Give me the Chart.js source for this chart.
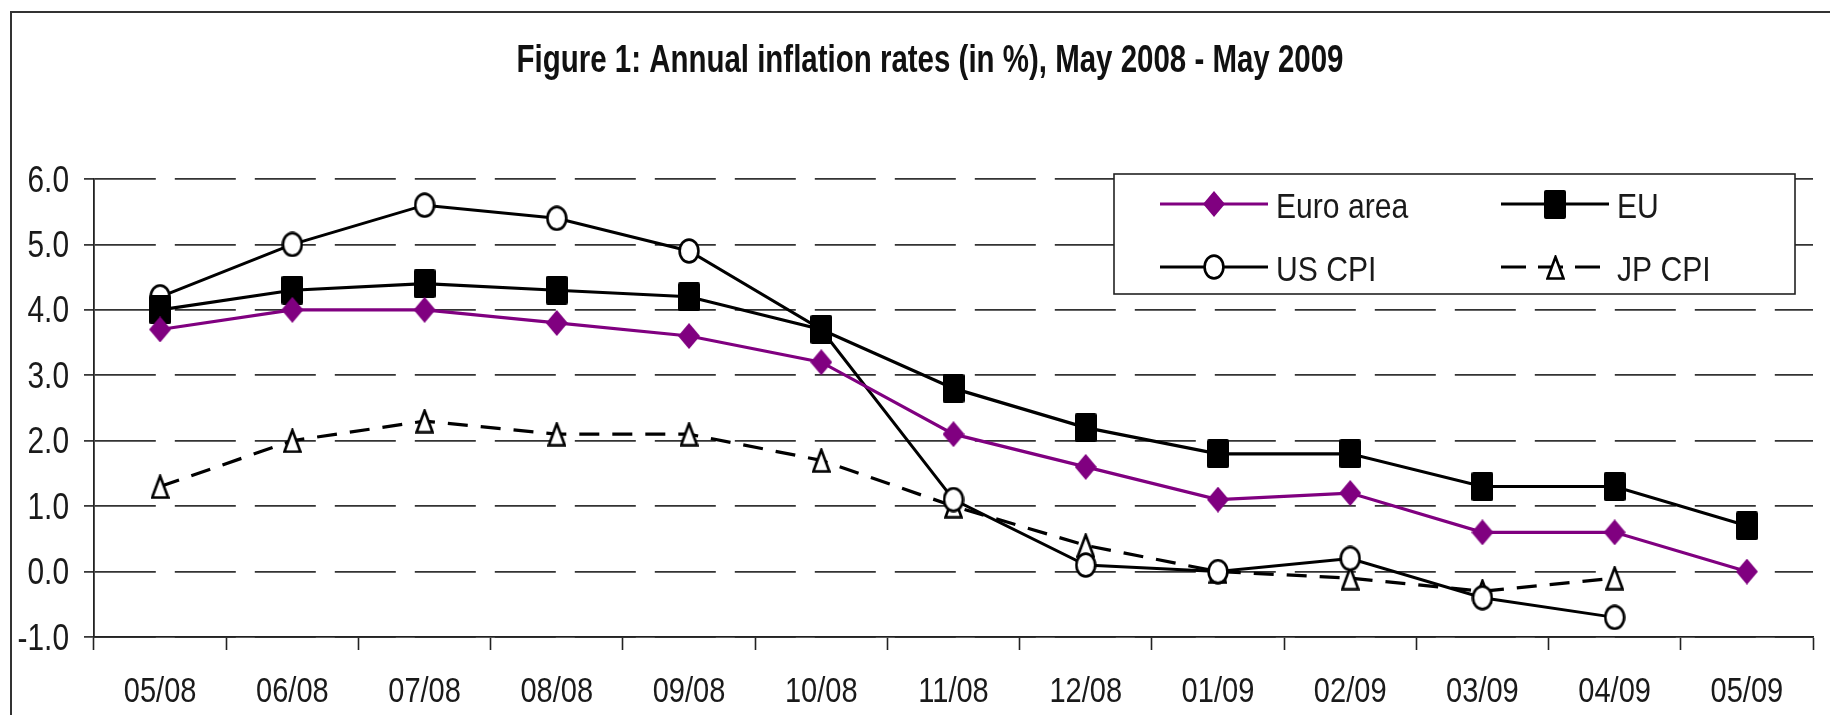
<!DOCTYPE html>
<html>
<head>
<meta charset="utf-8">
<script src="https://cdn.jsdelivr.net/npm/chart.js@4.4.0/dist/chart.umd.min.js"></script>
<style>
  html, body { margin: 0; padding: 0; background: #fff; }
</style>
</head>
<body>
<canvas id="lineChart" width="1830" height="715"></canvas>
<script>
// Data
const months   = ['05/08', '06/08', '07/08', '08/08', '09/08', '10/08', '11/08', '12/08', '01/09', '02/09', '03/09', '04/09', '05/09'];
const euroArea = [3.7, 4.0, 4.0, 3.8, 3.6, 3.2, 2.1, 1.6, 1.1, 1.2, 0.6, 0.6, 0.0];
const eu       = [4.0, 4.3, 4.4, 4.3, 4.2, 3.7, 2.8, 2.2, 1.8, 1.8, 1.3, 1.3, 0.7];
const usCpi    = [4.2, 5.0, 5.6, 5.4, 4.9, 3.7, 1.1, 0.1, 0.0, 0.2, -0.4, -0.7, null];
const jpCpi    = [1.3, 2.0, 2.3, 2.1, 2.1, 1.7, 1.0, 0.4, 0.0, -0.1, -0.3, -0.1, null];
const yMin = -1.0, yMax = 6.0, yStep = 1.0;
const title = 'Figure 1: Annual inflation rates (in %), May 2008 - May 2009';

// no narrow font installed -> squeeze Liberation Sans by hand
const sans = "'Liberation Sans', Arial, sans-serif";
const squeeze = 0.83;
const ink = '#1a1a1a';
const purple = '#800080';

function narrowText(ctx, text, x, y, font, align, sx) {
    ctx.save();
    ctx.font = font;
    ctx.textAlign = align;
    ctx.textBaseline = 'alphabetic';
    ctx.translate(x, y);
    ctx.scale(sx, 1);
    ctx.fillText(text, 0, 0);
    ctx.restore();
}

// Markers (the original has slightly tall markers, so draw them on small canvases)
function marker(w, h, draw) {
    const c = document.createElement('canvas');
    c.width = w; c.height = h;
    draw(c.getContext('2d'), w, h);
    return c;
}
const diamond = marker(22, 26, (g, w, h) => {
    g.fillStyle = purple;
    g.beginPath(); g.moveTo(w / 2, 0); g.lineTo(w, h / 2); g.lineTo(w / 2, h); g.lineTo(0, h / 2); g.closePath(); g.fill();
});
const square = marker(22, 29, (g, w, h) => {
    g.fillStyle = '#000';
    g.beginPath(); g.roundRect(0, 0, w, h, 2); g.fill();
});
const circle = marker(22, 26, (g, w, h) => {
    g.fillStyle = '#fff'; g.strokeStyle = '#000'; g.lineWidth = 2.6;
    g.beginPath(); g.ellipse(w / 2, h / 2, w / 2 - 1.6, h / 2 - 1.6, 0, 0, Math.PI * 2); g.fill(); g.stroke();
});
const triangle = marker(19, 25, (g, w, h) => {
    g.fillStyle = '#fff'; g.strokeStyle = '#000'; g.lineWidth = 2.6;
    g.beginPath(); g.moveTo(w / 2, 2); g.lineTo(w - 1.5, h - 1.5); g.lineTo(1.5, h - 1.5); g.closePath(); g.fill(); g.stroke();
});

// Frame, title, tick labels, legend box
const decorations = {
    id: 'decorations',
    beforeDraw(chart) {
        const ctx = chart.ctx;
        ctx.save();
        ctx.fillStyle = '#fff';
        ctx.fillRect(0, 0, chart.width, chart.height);
        ctx.restore();
    },
    afterDraw(chart) {
        const ctx = chart.ctx;
        const xs = chart.scales.x, ys = chart.scales.y;
        ctx.save();
        ctx.strokeStyle = '#333';
        ctx.lineWidth = 2;
        ctx.beginPath();
        ctx.moveTo(11, chart.height); ctx.lineTo(11, 12); ctx.lineTo(chart.width, 12);
        ctx.stroke();

        // title
        ctx.fillStyle = '#111';
        ctx.font = 'bold 38px ' + sans;
        const tw = ctx.measureText(title).width;
        narrowText(ctx, title, 930, 72, 'bold 38px ' + sans, 'center', 827 / tw);

        // tick labels, placed by the scales
        ctx.fillStyle = ink;
        ys.ticks.forEach(t => {
            narrowText(ctx, t.value.toFixed(1), 69, ys.getPixelForValue(t.value) + 12.5, '36px ' + sans, 'right', squeeze);
        });
        months.forEach((m, i) => {
            narrowText(ctx, m, xs.getPixelForValue(i), 702, '35px ' + sans, 'center', squeeze);
        });

        // legend
        ctx.fillStyle = '#fff';
        ctx.fillRect(1114, 174, 681, 120);
        ctx.lineWidth = 1.6;
        ctx.strokeStyle = '#222';
        ctx.strokeRect(1114, 174, 681, 120);

        const cols = [1160, 1501], rows = [204, 267];
        chart.data.datasets.forEach((ds, i) => {
            const x = cols[i % 2], y = rows[Math.floor(i / 2)];
            ctx.strokeStyle = ds.borderColor;
            ctx.lineWidth = ds.borderWidth;
            ctx.setLineDash(ds.legendDash || []);
            ctx.beginPath(); ctx.moveTo(x, y); ctx.lineTo(x + 108, y); ctx.stroke();
            ctx.setLineDash([]);
            const m = ds.pointStyle;
            ctx.drawImage(m, Math.round(x + 54 - m.width / 2), Math.round(y - m.height / 2));
            ctx.fillStyle = ink;
            narrowText(ctx, ds.label, x + 116, y + 13.5, '35px ' + sans, 'left', 0.86);
        });
        ctx.restore();
    }
};

const ctx = document.getElementById('lineChart').getContext('2d');
const lineChart = new Chart(ctx, {
    type: 'line',
    data: {
        labels: months,
        datasets: [
            { label: 'Euro area', data: euroArea, borderColor: purple, borderWidth: 3.2, pointStyle: diamond, pointRadius: 12 },
            { label: 'EU', data: eu, borderColor: '#000', borderWidth: 3.2, pointStyle: square, pointRadius: 12 },
            { label: 'US CPI', data: usCpi, borderColor: '#000', borderWidth: 3, pointStyle: circle, pointRadius: 12 },
            { label: 'JP CPI', data: jpCpi, borderColor: '#000', borderWidth: 3.2, borderDash: [20, 13], legendDash: [25, 12], pointStyle: triangle, pointRadius: 12 }
        ]
    },
    options: {
        responsive: false,
        animation: false,
        layout: { padding: { left: 30, right: 17, top: 179, bottom: 0 } },
        plugins: {
            legend: { display: false },
            tooltip: { enabled: false },
            title: { display: false }
        },
        scales: {
            x: {
                offset: true,
                grid: { offset: true, drawOnChartArea: false, tickLength: 13, tickColor: '#222', tickWidth: 1.6 },
                border: { color: '#222', width: 1.8 },
                ticks: { display: false, autoSkip: false },
                afterFit: s => { s.height = 78; }
            },
            y: {
                min: yMin,
                max: yMax,
                ticks: { display: false, stepSize: yStep },
                grid: { color: '#333', lineWidth: 1.8, tickLength: 10, tickColor: '#222', tickWidth: 1.6 },
                border: { color: '#222', width: 1.8, dash: [61, 19] },
                afterFit: s => { s.width = 64; }
            }
        }
    },
    plugins: [decorations]
});
</script>
</body>
</html>
